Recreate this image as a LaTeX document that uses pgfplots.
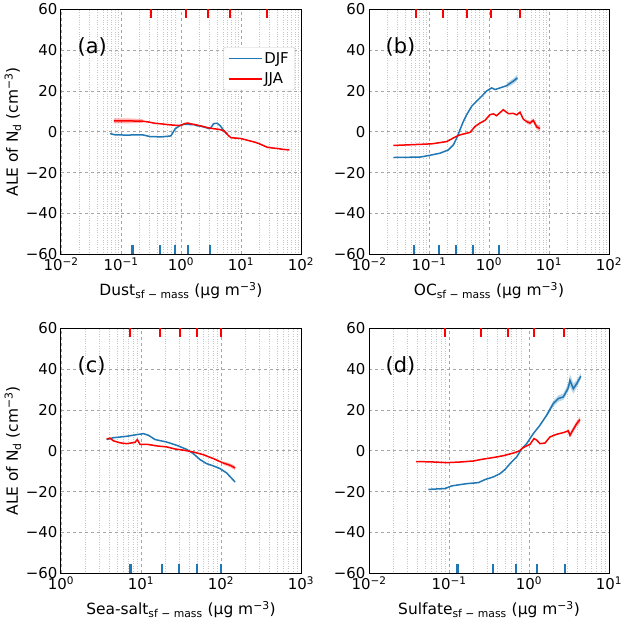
\documentclass[border=0pt]{standalone}
\usepackage{fontspec}
\setmainfont{DejaVu Sans}
\usepackage{pgfplots}
\pgfplotsset{compat=1.18}
\usepgfplotslibrary{groupplots}
\usetikzlibrary{calc}

\definecolor{djf}{HTML}{1F77B4}
\definecolor{jja}{HTML}{FF0000}

\pgfplotsset{
  aleax/.style={
    xmode=log, width=240bp, height=245bp, scale only axis,
    ymin=-60, ymax=60, ytick={-60,-40,...,60},
    yticklabels={−60,−40,−20,0,20,40,60},
    grid=both,
    major grid style={dashed, color=black!35, line width=0.6bp},
    minor grid style={dotted, color=black!22, line width=0.6bp},
    major tick length=0pt, minor tick length=0pt,
    axis line style={line width=1bp},
    tick label style={font=\fontsize{15}{17}\selectfont},
    every axis x label/.append style={at={(rel axis cs:0.5,-0.147)}, anchor=center, font=\fontsize{15.5}{18}\selectfont},
    every axis y label/.append style={at={(rel axis cs:-0.2,0.5)}, anchor=center, font=\fontsize{15.5}{18}\selectfont},
    every axis plot/.append style={line width=1.5bp},
  },
  rugtop/.style={jja, only marks, mark=|, mark size=4.6bp, mark options={line width=2.2bp}, forget plot},
  rugbot/.style={djf, only marks, mark=|, mark size=4.6bp, mark options={line width=2.2bp}, forget plot},
  bandb/.style={fill=djf, fill opacity=0.3, draw=none, forget plot},
  bandr/.style={fill=jja, fill opacity=0.3, draw=none, forget plot},
}
\newcommand{\plab}[1]{\node[anchor=west, font=\fontsize{21}{24}\selectfont] at (rel axis cs:0.055,0.845) {#1};}

\begin{document}
\begin{tikzpicture}
\begin{groupplot}[
  group style={group size=2 by 2, horizontal sep=68bp, vertical sep=74bp},
  aleax,
]
% (a) dust
\nextgroupplot[
  xmin=0.01, xmax=100,
  xtick={0.01,0.1,1,10,100},
  xticklabels={10\textsuperscript{−2},10\textsuperscript{−1},10\textsuperscript{0},10\textsuperscript{1},10\textsuperscript{2}},
  minor xtick={0.02,0.03,...,0.09,0.2,0.3,...,0.9,2,3,...,9,20,30,...,90},
  xlabel={Dust\textsubscript{sf − mass} (μg m\textsuperscript{−3})},
  ylabel={ALE of N\textsubscript{d} (cm\textsuperscript{−3})},
  legend style={at={(rel axis cs:0.975,0.846)}, anchor=north east,
    draw=black!20, rounded corners=2bp, fill=white,
    font=\fontsize{15}{17}\selectfont, row sep=4bp, inner xsep=4bp, inner ysep=3bp},
  legend cell align=left,
  legend image code/.code={\draw[#1, line width=1.6bp] (0bp,0bp) -- (33bp,0bp);},
]
\addplot[bandr] coordinates {(0.076,6.6) (0.1,6.6) (0.15,6.5) (0.23,6.2) (0.23,4.4) (0.15,4.2) (0.1,4.1) (0.076,4.1)};
\addplot[djf] coordinates {
  (0.066,-0.9) (0.08,-1.5) (0.12,-1.6) (0.23,-1.5) (0.3,-2.3) (0.46,-2.5) (0.6,-2.2)
  (0.68,-2.0) (0.80,1.5) (0.9,2.5) (1.0,3.3) (1.15,3.7) (1.3,3.6) (1.66,3.5) (1.8,3.0)
  (2.1,2.8) (2.5,2.2) (3.0,1.5) (3.2,2.3) (3.5,4.0) (4.0,4.2) (4.5,3.0) (5.2,0.5) (6.0,-1.2)};
\addlegendentry{DJF}
\addplot[jja] coordinates {
  (0.076,5.3) (0.1,5.3) (0.15,5.3) (0.23,5.2) (0.3,4.7) (0.36,4.2) (0.5,3.8) (0.6,3.5)
  (0.8,3.2) (1.0,3.2) (1.15,4.0) (1.3,4.3) (1.5,3.8) (1.66,3.6) (2.2,2.8) (2.8,2.0)
  (3.5,1.5) (4.3,1.2) (5.2,0.5) (6.0,-1.5) (6.8,-2.9) (10,-3.3) (13,-4.2) (16.6,-5.0)
  (20,-5.8) (27.5,-7.6) (35,-8.0) (41,-8.2) (50,-8.6) (64,-8.9)};
\addlegendentry{JJA}
\addplot[rugtop] coordinates {(0.312,57.8) (1.2,57.8) (2.82,57.8) (6.64,57.8) (27.5,57.8)};
\addplot[rugbot] coordinates {(0.155,-57.8) (0.447,-57.8) (0.794,-57.8) (1.31,-57.8) (3.0,-57.8)};
\plab{(a)}

% (b) OC
\nextgroupplot[
  xmin=0.01, xmax=100,
  xtick={0.01,0.1,1,10,100},
  xticklabels={10\textsuperscript{−2},10\textsuperscript{−1},10\textsuperscript{0},10\textsuperscript{1},10\textsuperscript{2}},
  minor xtick={0.02,0.03,...,0.09,0.2,0.3,...,0.9,2,3,...,9,20,30,...,90},
  xlabel={OC\textsubscript{sf − mass} (μg m\textsuperscript{−3})},
]
\addplot[bandb] coordinates {(1.95,23.6) (2.57,26.2) (2.95,28) (2.95,25) (2.57,23.5) (1.95,21.6)};
\addplot[bandr] coordinates {(4.24,6.0) (4.82,5.3) (5.48,6.6) (6.23,3.6) (7.08,3.0) (7.08,0.2) (6.23,1.2) (5.48,4.6) (4.82,3.3) (4.24,4.0)};
\addplot[djf] coordinates {
  (0.0255,-12.6) (0.04,-12.5) (0.0708,-12.4) (0.104,-11.5) (0.152,-10.5) (0.21,-8.9)
  (0.255,-6.4) (0.289,-3.1) (0.329,1.0) (0.373,5.0) (0.425,8.4) (0.514,12.5) (0.622,15.0)
  (0.755,17.4) (0.914,20.0) (1.107,21.5) (1.26,20.7) (1.525,21.5) (1.97,22.6) (2.54,24.8) (2.97,26.4)};
\addplot[jja] coordinates {
  (0.0255,-6.7) (0.111,-5.9) (0.197,-4.8) (0.271,-2.6) (0.329,-1.5) (0.482,-0.3) (0.585,2.6)
  (0.708,4.3) (0.858,5.6) (1.04,8.4) (1.18,8.8) (1.34,7.9) (1.73,10.8) (2.1,8.9) (2.54,9.0)
  (2.89,8.3) (3.29,9.6) (3.73,6.2) (4.24,5.0) (4.82,4.3) (5.48,5.6) (6.23,2.4) (7.08,1.6)};
\addplot[rugtop] coordinates {(0.06,57.8) (0.169,57.8) (0.435,57.8) (1.08,57.8) (3.29,57.8)};
\addplot[rugbot] coordinates {(0.057,-57.8) (0.149,-57.8) (0.278,-57.8) (0.535,-57.8) (1.45,-57.8)};
\plab{(b)}

% (c) sea salt
\nextgroupplot[
  xmin=1, xmax=1000,
  xtick={1,10,100,1000},
  xticklabels={10\textsuperscript{0},10\textsuperscript{1},10\textsuperscript{2},10\textsuperscript{3}},
  minor xtick={2,3,...,9,20,30,...,90,200,300,...,900},
  xlabel={Sea-salt\textsubscript{sf − mass} (μg m\textsuperscript{−3})},
  ylabel={ALE of N\textsubscript{d} (cm\textsuperscript{−3})},
]
\addplot[bandr] coordinates {(107,-5.2) (130,-6.2) (150,-7.4) (150,-9.5) (130,-8) (107,-6.8)};
\addplot[djf] coordinates {
  (3.72,5.5) (4.51,6.4) (6.62,7.1) (8.83,7.9) (10.7,8.4) (12.4,7.6) (15.0,5.5) (20.9,4.3)
  (27.9,2.7) (37.2,0.7) (45.1,-1.4) (54.6,-4.3) (66.2,-6.3) (80.2,-7.4) (97.2,-8.7)
  (118,-10.9) (150,-15.3)};
\addplot[jja] coordinates {
  (3.72,5.8) (4.1,6.2) (4.51,4.9) (5.47,3.9) (6.62,3.5) (8.4,4.1) (8.98,5.5) (9.7,3.2)
  (11.8,3.2) (15.7,2.4) (20.9,1.9) (26.5,0.9) (35.4,0.2) (45.1,-0.6) (60,-1.9) (80,-3.8)
  (107,-6.0) (130,-7.1) (150,-8.4)};
\addplot[rugtop] coordinates {(7.22,57.8) (17.1,57.8) (30.7,57.8) (50.1,57.8) (99,57.8)};
\addplot[rugbot] coordinates {(7.4,-57.8) (18.1,-57.8) (30.1,-57.8) (49.7,-57.8) (99,-57.8)};
\plab{(c)}

% (d) sulfate
\nextgroupplot[
  xmin=0.01, xmax=10,
  xtick={0.01,0.1,1,10},
  xticklabels={10\textsuperscript{−2},10\textsuperscript{−1},10\textsuperscript{0},10\textsuperscript{1}},
  minor xtick={0.02,0.03,...,0.09,0.2,0.3,...,0.9,2,3,...,9},
  xlabel={Sulfate\textsubscript{sf − mass} (μg m\textsuperscript{−3})},
]
\addplot[bandb] coordinates {(1.66,18.5) (2.01,24.5) (2.33,27.2) (2.69,28) (3.1,33) (3.25,37.5) (3.58,33) (3.95,34.5) (4.44,38)
  (4.44,35) (3.95,31) (3.58,28) (3.25,31.5) (3.1,29) (2.69,25) (2.33,24) (2.01,21.7) (1.66,16.3)};
\addplot[bandr] coordinates {(3.1,10.8) (3.25,8.8) (3.52,11.3) (3.95,14.6) (4.34,16.8) (4.34,13.6) (3.95,12) (3.52,8.7) (3.25,6.4) (3.1,8.8)};
\addplot[djf] coordinates {
  (0.0552,-18.9) (0.089,-18.5) (0.108,-17.2) (0.166,-16.1) (0.233,-15.6) (0.282,-14.1)
  (0.358,-12.8) (0.434,-11.2) (0.5,-9.2) (0.579,-6.3) (0.702,-3.0) (0.812,1.1) (0.935,3.5)
  (1.13,8.4) (1.37,12.5) (1.66,17.4) (2.01,23.1) (2.33,25.6) (2.69,26.4) (3.1,30.9)
  (3.25,34.5) (3.58,30.4) (3.95,32.9) (4.44,36.5)};
\addplot[jja] coordinates {
  (0.0387,-5.3) (0.0579,-5.4) (0.0933,-5.8) (0.137,-5.5) (0.201,-5.0) (0.256,-4.2) (0.358,-3.3)
  (0.478,-2.4) (0.637,-1.1) (0.756,-0.1) (0.85,1.6) (1.03,3.2) (1.155,6.0) (1.25,5.2)
  (1.37,3.5) (1.585,3.8) (1.83,6.8) (2.22,8.1) (2.69,8.9) (3.1,9.8) (3.25,7.6) (3.52,10.0)
  (3.95,13.3) (4.34,15.3)};
\addplot[rugtop] coordinates {(0.089,57.8) (0.251,57.8) (0.541,57.8) (1.166,57.8) (2.71,57.8)};
\addplot[rugbot] coordinates {(0.128,-57.8) (0.358,-57.8) (0.681,-57.8) (1.248,-57.8) (2.82,-57.8)};
\plab{(d)}
\end{groupplot}
\pgfresetboundingbox
\useasboundingbox ($(group c1r1.north west)+(-61bp,9.3bp)$) rectangle ($(group c2r2.south east)+(16bp,-50bp)$);
\end{tikzpicture}
\end{document}
